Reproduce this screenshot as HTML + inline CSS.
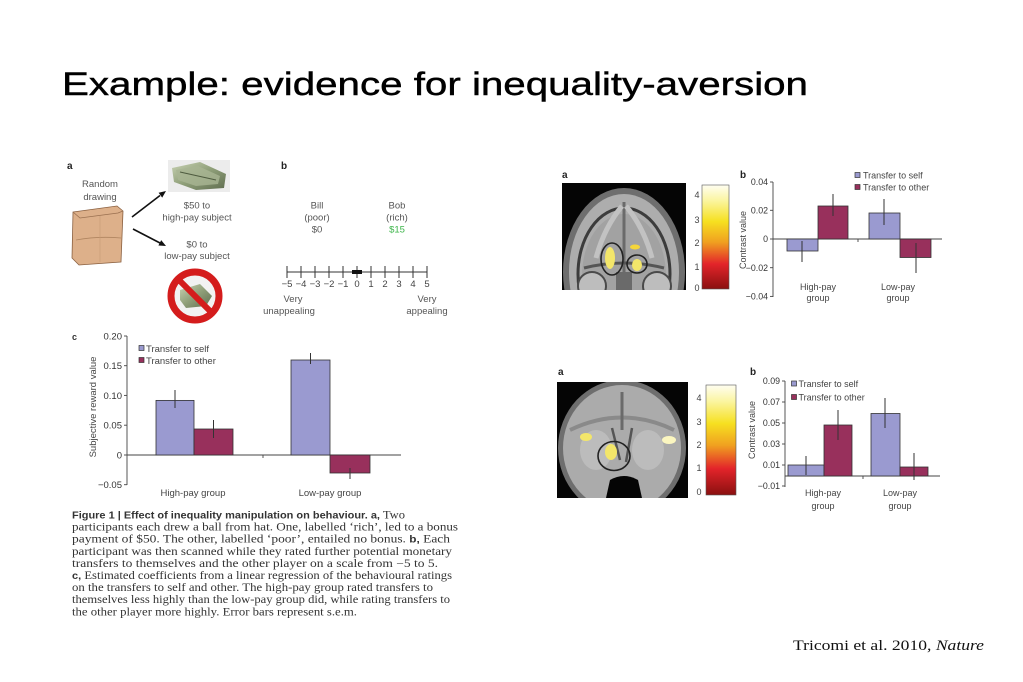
<!DOCTYPE html>
<html><head><meta charset="utf-8"><style>
html,body{margin:0;padding:0;background:#fff;}
svg{display:block}
</style></head><body>
<svg width="1023" height="682" viewBox="0 0 1023 682" xmlns="http://www.w3.org/2000/svg" font-family="'Liberation Sans', Arial, sans-serif">
<defs>
<linearGradient id="cb" x1="0" y1="0" x2="0" y2="1">
<stop offset="0" stop-color="#fffef2"/>
<stop offset="0.15" stop-color="#fbf5a0"/>
<stop offset="0.35" stop-color="#f6e020"/>
<stop offset="0.55" stop-color="#f0a020"/>
<stop offset="0.76" stop-color="#e3242a"/>
<stop offset="1" stop-color="#8a1010"/>
</linearGradient>
<linearGradient id="money" x1="0" y1="0" x2="1" y2="1">
<stop offset="0" stop-color="#c9d3b4"/>
<stop offset="0.5" stop-color="#8e9e78"/>
<stop offset="1" stop-color="#5f6d4f"/>
</linearGradient>
<clipPath id="c1"><rect x="562" y="183" width="124" height="107"/></clipPath>
<clipPath id="c2"><rect x="557" y="382" width="131" height="116"/></clipPath>
</defs>

<!-- Title -->
<text x="62" y="0" font-size="38" textLength="746" lengthAdjust="spacingAndGlyphs" transform="translate(0,95) scale(1,0.85)" fill="#000" stroke="#000" stroke-width="0.5">Example: evidence for inequality-aversion</text>

<!-- ===== Left panel a ===== -->
<text x="67" y="169" font-size="10" font-weight="bold" fill="#222">a</text>
<g font-size="9.5" fill="#555" text-anchor="middle">
<text x="100" y="187">Random</text>
<text x="100" y="200">drawing</text>
<text x="197" y="208.5">$50 to</text>
<text x="197" y="220.5">high-pay subject</text>
<text x="197" y="247.5">$0 to</text>
<text x="197" y="259">low-pay subject</text>
</g>
<!-- bag -->
<path d="M73,212 L117,206 L123,211 L121,262 L79,265 L72,258 Z" fill="#ddb08a" stroke="#8a6040" stroke-width="0.8"/>
<path d="M73,212 L80,218 L118,213 L123,211" fill="none" stroke="#9a7050" stroke-width="0.8"/>
<path d="M76,240 Q98,236 121,238" fill="none" stroke="#b08560" stroke-width="0.8"/>
<path d="M100,216 L100,262" fill="none" stroke="#c89a74" stroke-width="0.6"/>
<!-- arrows -->
<line x1="132" y1="217" x2="160" y2="195.5" stroke="#111" stroke-width="1.6"/>
<polygon points="166,191 162.2,197.6 158.6,192.8" fill="#111"/>
<line x1="133" y1="229" x2="160" y2="243" stroke="#111" stroke-width="1.6"/>
<polygon points="166,246 158.4,245.5 161.2,240.1" fill="#111"/>
<!-- money top -->
<rect x="168" y="160" width="62" height="32" fill="#ececec"/>
<polygon points="172,168 200,162 226,174 224,188 196,190 174,182" fill="url(#money)"/>
<polygon points="176,170 198,166 220,176 218,184 196,186 178,180" fill="#a9b594" opacity="0.8"/>
<line x1="180" y1="172" x2="216" y2="180" stroke="#4d5a3e" stroke-width="1"/>
<!-- no sign -->
<circle cx="195" cy="296" r="24" fill="#f2f2f2" stroke="#d41c1c" stroke-width="7"/>
<polygon points="180,290 200,284 212,296 206,306 186,308 180,300" fill="url(#money)"/>
<line x1="178" y1="279" x2="212" y2="313" stroke="#d41c1c" stroke-width="6"/>

<!-- ===== Left panel b ===== -->
<text x="281" y="169" font-size="10" font-weight="bold" fill="#222">b</text>
<g font-size="9.5" fill="#555" text-anchor="middle">
<text x="317" y="208.5">Bill</text>
<text x="317" y="220.5">(poor)</text>
<text x="317" y="232.5">$0</text>
<text x="397" y="208.5">Bob</text>
<text x="397" y="220.5">(rich)</text>
<text x="397" y="232.5" fill="#3db54a">$15</text>
<text x="293" y="302">Very</text>
<text x="289" y="314">unappealing</text>
<text x="427" y="302">Very</text>
<text x="427" y="314">appealing</text>
</g>
<g stroke="#333" stroke-width="1">
<line x1="287" y1="272" x2="427" y2="272"/>
<line x1="287" y1="266" x2="287" y2="278"/><line x1="301" y1="266" x2="301" y2="278"/>
<line x1="315" y1="266" x2="315" y2="278"/><line x1="329" y1="266" x2="329" y2="278"/>
<line x1="343" y1="266" x2="343" y2="278"/><line x1="357" y1="266" x2="357" y2="278"/>
<line x1="371" y1="266" x2="371" y2="278"/><line x1="385" y1="266" x2="385" y2="278"/>
<line x1="399" y1="266" x2="399" y2="278"/><line x1="413" y1="266" x2="413" y2="278"/>
<line x1="427" y1="266" x2="427" y2="278"/>
</g>
<rect x="352" y="270" width="10" height="4" fill="#111"/>
<g font-size="9.5" fill="#444" text-anchor="middle">
<text x="287" y="287">−5</text><text x="301" y="287">−4</text><text x="315" y="287">−3</text>
<text x="329" y="287">−2</text><text x="343" y="287">−1</text><text x="357" y="287">0</text>
<text x="371" y="287">1</text><text x="385" y="287">2</text><text x="399" y="287">3</text>
<text x="413" y="287">4</text><text x="427" y="287">5</text>
</g>

<!-- ===== Left panel c ===== -->
<text x="72" y="340" font-size="9" font-weight="bold" fill="#333">c</text>
<g stroke="#444" stroke-width="0.9">
<line x1="127" y1="336" x2="127" y2="485"/>
<line x1="124" y1="336" x2="127" y2="336"/>
<line x1="124" y1="365.7" x2="127" y2="365.7"/>
<line x1="124" y1="395.4" x2="127" y2="395.4"/>
<line x1="124" y1="425.2" x2="127" y2="425.2"/>
<line x1="124" y1="455" x2="127" y2="455"/>
<line x1="124" y1="484.7" x2="127" y2="484.7"/>
<line x1="127" y1="455" x2="401" y2="455"/>
<line x1="263" y1="455" x2="263" y2="458"/>
</g>
<g font-size="9.5" fill="#333" text-anchor="end">
<text x="122" y="339.5">0.20</text>
<text x="122" y="369">0.15</text>
<text x="122" y="398.8">0.10</text>
<text x="122" y="428.6">0.05</text>
<text x="122" y="458.4">0</text>
<text x="122" y="488">−0.05</text>
</g>
<text x="0" y="0" font-size="9.5" fill="#444" text-anchor="middle" transform="translate(96,407) rotate(-90)">Subjective reward value</text>
<g stroke="#333" stroke-width="0.8">
<rect x="156" y="400.4" width="38" height="54.6" fill="#9a9ad0"/>
<rect x="194" y="429" width="39" height="26" fill="#98305c"/>
<rect x="291" y="360" width="39" height="95" fill="#9a9ad0"/>
<rect x="330" y="455" width="40" height="18" fill="#98305c"/>
</g>
<g stroke="#333" stroke-width="1">
<line x1="175" y1="390" x2="175" y2="408"/>
<line x1="213.5" y1="420" x2="213.5" y2="438"/>
<line x1="310.5" y1="353" x2="310.5" y2="364"/>
<line x1="350" y1="468" x2="350" y2="479"/>
</g>
<rect x="139" y="345.5" width="5" height="5" fill="#9a9ad0" stroke="#333" stroke-width="0.7"/>
<rect x="139" y="357.5" width="5" height="5" fill="#98305c" stroke="#333" stroke-width="0.7"/>
<g font-size="9.5" fill="#444">
<text x="146" y="352">Transfer to self</text>
<text x="146" y="364">Transfer to other</text>
</g>
<g font-size="9.5" fill="#444" text-anchor="middle">
<text x="193" y="496">High-pay group</text>
<text x="330" y="496">Low-pay group</text>
</g>

<!-- caption -->
<g font-family="'Liberation Serif', 'Times New Roman', serif" font-size="11.2" fill="#333">
<text x="72" y="518.5" textLength="333" lengthAdjust="spacingAndGlyphs"><tspan font-family="'Liberation Sans', Arial, sans-serif" font-weight="bold" font-size="9.8">Figure 1 | Effect of inequality manipulation on behaviour.</tspan><tspan font-family="'Liberation Sans', Arial, sans-serif" font-weight="bold" font-size="9.8">  a,</tspan> Two</text>
<text x="72" y="530.6" textLength="386" lengthAdjust="spacingAndGlyphs">participants each drew a ball from hat. One, labelled ‘rich’, led to a bonus</text>
<text x="72" y="542.7" textLength="378" lengthAdjust="spacingAndGlyphs">payment of $50. The other, labelled ‘poor’, entailed no bonus. <tspan font-family="'Liberation Sans', Arial, sans-serif" font-weight="bold" font-size="9.8">b,</tspan> Each</text>
<text x="72" y="554.8" textLength="380" lengthAdjust="spacingAndGlyphs">participant was then scanned while they rated further potential monetary</text>
<text x="72" y="566.9" textLength="366" lengthAdjust="spacingAndGlyphs">transfers to themselves and the other player on a scale from −5 to 5.</text>
<text x="72" y="579" textLength="380" lengthAdjust="spacingAndGlyphs"><tspan font-family="'Liberation Sans', Arial, sans-serif" font-weight="bold" font-size="9.8">c,</tspan> Estimated coefficients from a linear regression of the behavioural ratings</text>
<text x="72" y="591.1" textLength="361" lengthAdjust="spacingAndGlyphs">on the transfers to self and other. The high-pay group rated transfers to</text>
<text x="72" y="603.2" textLength="378" lengthAdjust="spacingAndGlyphs">themselves less highly than the low-pay group did, while rating transfers to</text>
<text x="72" y="615.3" textLength="285" lengthAdjust="spacingAndGlyphs">the other player more highly. Error bars represent s.e.m.</text>
</g>

<!-- ===== Right top ===== -->
<text x="562" y="178" font-size="10" font-weight="bold" fill="#222">a</text>
<rect x="562" y="183" width="124" height="107" fill="#050505"/>
<g clip-path="url(#c1)">
<ellipse cx="624" cy="272" rx="61" ry="84" fill="#6e6e6e"/>
<ellipse cx="624" cy="272" rx="55" ry="78" fill="#adadad"/>
<ellipse cx="624" cy="274" rx="46" ry="66" fill="none" stroke="#3c3c3c" stroke-width="3"/>
<ellipse cx="624" cy="276" rx="42" ry="62" fill="#a2a2a2"/>
<path d="M624,202 L624,290" stroke="#6a6a6a" stroke-width="3"/>
<path d="M622,206 Q604,228 596,258" fill="none" stroke="#c2c2c2" stroke-width="5"/>
<path d="M626,206 Q644,228 652,258" fill="none" stroke="#c2c2c2" stroke-width="5"/>
<path d="M584,268 Q624,258 664,268" fill="none" stroke="#555" stroke-width="3"/>
<circle cx="592" cy="286" r="14" fill="#bdbdbd" stroke="#4a4a4a" stroke-width="2"/>
<circle cx="657" cy="286" r="14" fill="#bdbdbd" stroke="#4a4a4a" stroke-width="2"/>
<rect x="616" y="272" width="16" height="20" fill="#6a6a6a"/>
<ellipse cx="610" cy="258" rx="5" ry="11" fill="#f3e66a"/>
<ellipse cx="635" cy="247" rx="5" ry="2.5" fill="#f5d63a"/>
<ellipse cx="637" cy="265" rx="5" ry="6" fill="#f3e66a"/>
<ellipse cx="612" cy="259" rx="11" ry="16" fill="none" stroke="#222" stroke-width="1.6"/>
<ellipse cx="637" cy="264" rx="10" ry="9" fill="none" stroke="#222" stroke-width="1.6"/>
</g>
<rect x="702" y="185" width="27" height="104" fill="url(#cb)" stroke="#555" stroke-width="0.6"/>
<g font-size="9" fill="#444" text-anchor="middle">
<text x="697" y="198">4</text><text x="697" y="223">3</text><text x="697" y="246">2</text>
<text x="697" y="270">1</text><text x="697" y="291">0</text>
</g>
<text x="740" y="178" font-size="10" font-weight="bold" fill="#222">b</text>
<g stroke="#444" stroke-width="0.9">
<line x1="773" y1="182" x2="773" y2="297"/>
<line x1="770" y1="182" x2="773" y2="182"/><line x1="770" y1="210.3" x2="773" y2="210.3"/>
<line x1="770" y1="239" x2="773" y2="239"/><line x1="770" y1="267.7" x2="773" y2="267.7"/>
<line x1="770" y1="296.4" x2="773" y2="296.4"/>
<line x1="773" y1="239" x2="942" y2="239"/>
<line x1="858" y1="239" x2="858" y2="242"/>
</g>
<g font-size="8.8" fill="#333" text-anchor="end">
<text x="768" y="185">0.04</text><text x="768" y="213.5">0.02</text><text x="768" y="242">0</text>
<text x="768" y="271">−0.02</text><text x="768" y="299.5">−0.04</text>
</g>
<text x="0" y="0" font-size="9" fill="#444" text-anchor="middle" transform="translate(746,240) rotate(-90)">Contrast value</text>
<g stroke="#333" stroke-width="0.8">
<rect x="787" y="239" width="31" height="12" fill="#9a9ad0"/>
<rect x="818" y="206" width="30" height="33" fill="#98305c"/>
<rect x="869" y="213" width="31" height="26" fill="#9a9ad0"/>
<rect x="900" y="239" width="31" height="18.5" fill="#98305c"/>
</g>
<g stroke="#333" stroke-width="1">
<line x1="802" y1="241" x2="802" y2="262"/>
<line x1="833" y1="194" x2="833" y2="216"/>
<line x1="884" y1="199" x2="884" y2="225"/>
<line x1="916" y1="243" x2="916" y2="273"/>
</g>
<rect x="855" y="172.5" width="5" height="5" fill="#9a9ad0" stroke="#333" stroke-width="0.7"/>
<rect x="855" y="184.5" width="5" height="5" fill="#98305c" stroke="#333" stroke-width="0.7"/>
<g font-size="9" fill="#444">
<text x="863" y="178.5">Transfer to self</text>
<text x="863" y="190.5">Transfer to other</text>
</g>
<g font-size="9" fill="#444" text-anchor="middle">
<text x="818" y="290">High-pay</text><text x="818" y="301">group</text>
<text x="898" y="290">Low-pay</text><text x="898" y="301">group</text>
</g>

<!-- ===== Right bottom ===== -->
<text x="558" y="375" font-size="10" font-weight="bold" fill="#222">a</text>
<rect x="557" y="382" width="131" height="116" fill="#050505"/>
<g clip-path="url(#c2)">
<ellipse cx="622" cy="448" rx="64" ry="68" fill="#6e6e6e"/>
<ellipse cx="622" cy="448" rx="59" ry="63" fill="#ababab"/>
<path d="M570,430 Q622,405 674,430" fill="none" stroke="#8a8a8a" stroke-width="4"/>
<path d="M622,392 L622,430" stroke="#6a6a6a" stroke-width="3"/>
<path d="M612,428 L620,460 M632,428 L626,462" fill="none" stroke="#555" stroke-width="2.5"/>
<ellipse cx="596" cy="450" rx="16" ry="20" fill="#bcbcbc"/>
<ellipse cx="648" cy="450" rx="16" ry="20" fill="#bcbcbc"/>
<path d="M606,498 L610,480 Q624,472 638,480 L642,498 Z" fill="#050505"/>
<ellipse cx="586" cy="437" rx="6" ry="4" fill="#f3e66a"/>
<ellipse cx="669" cy="440" rx="7" ry="4" fill="#fbf6c0"/>
<ellipse cx="611" cy="452" rx="6" ry="8" fill="#f3e66a"/>
<ellipse cx="614" cy="456" rx="16" ry="14.5" fill="none" stroke="#222" stroke-width="1.6"/>
</g>
<rect x="706" y="385" width="30" height="110" fill="url(#cb)" stroke="#555" stroke-width="0.6"/>
<g font-size="9" fill="#444" text-anchor="middle">
<text x="699" y="401">4</text><text x="699" y="425">3</text><text x="699" y="448">2</text>
<text x="699" y="471">1</text><text x="699" y="495">0</text>
</g>
<text x="750" y="375" font-size="10" font-weight="bold" fill="#222">b</text>
<g stroke="#444" stroke-width="0.9">
<line x1="785" y1="381" x2="785" y2="487"/>
<line x1="782" y1="381" x2="785" y2="381"/><line x1="782" y1="402" x2="785" y2="402"/>
<line x1="782" y1="423" x2="785" y2="423"/><line x1="782" y1="444" x2="785" y2="444"/>
<line x1="782" y1="465" x2="785" y2="465"/><line x1="782" y1="486" x2="785" y2="486"/>
<line x1="785" y1="476" x2="940" y2="476"/>
<line x1="863" y1="476" x2="863" y2="479"/>
</g>
<g font-size="8.8" fill="#333" text-anchor="end">
<text x="780" y="384">0.09</text><text x="780" y="405">0.07</text><text x="780" y="426">0.05</text>
<text x="780" y="447">0.03</text><text x="780" y="468">0.01</text><text x="780" y="489">−0.01</text>
</g>
<text x="0" y="0" font-size="9" fill="#444" text-anchor="middle" transform="translate(755,430) rotate(-90)">Contrast value</text>
<g stroke="#333" stroke-width="0.8">
<rect x="788" y="465" width="36" height="11" fill="#9a9ad0"/>
<rect x="824" y="425" width="28" height="51" fill="#98305c"/>
<rect x="871" y="413.5" width="29" height="62.5" fill="#9a9ad0"/>
<rect x="900" y="467" width="28" height="9" fill="#98305c"/>
</g>
<g stroke="#333" stroke-width="1">
<line x1="806" y1="456" x2="806" y2="475"/>
<line x1="838" y1="410" x2="838" y2="440"/>
<line x1="885" y1="398" x2="885" y2="428"/>
<line x1="914" y1="453" x2="914" y2="480"/>
</g>
<rect x="791.5" y="381" width="5" height="5" fill="#9a9ad0" stroke="#333" stroke-width="0.7"/>
<rect x="791.5" y="394.5" width="5" height="5" fill="#98305c" stroke="#333" stroke-width="0.7"/>
<g font-size="9" fill="#444">
<text x="798.5" y="387">Transfer to self</text>
<text x="798.5" y="400.5">Transfer to other</text>
</g>
<g font-size="9" fill="#444" text-anchor="middle">
<text x="823" y="496">High-pay</text><text x="823" y="509">group</text>
<text x="900" y="496">Low-pay</text><text x="900" y="509">group</text>
</g>

<!-- citation -->
<text x="793" y="650" font-family="'Liberation Serif', 'Times New Roman', serif" font-size="15" fill="#111" textLength="191" lengthAdjust="spacingAndGlyphs">Tricomi et al. 2010, <tspan font-style="italic">Nature</tspan></text>
</svg>
</body></html>
